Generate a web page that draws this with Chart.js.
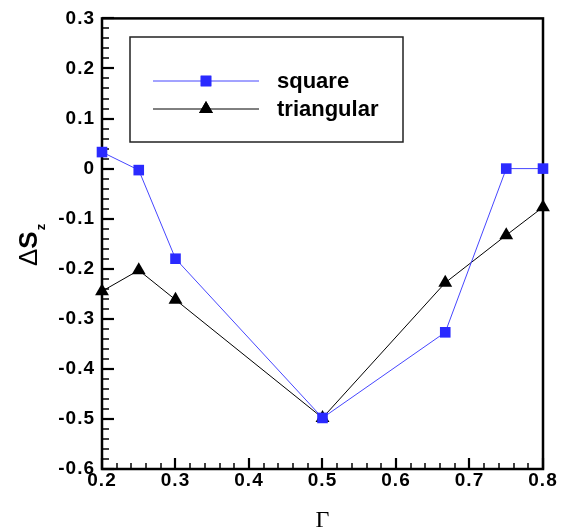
<!DOCTYPE html>
<html>
<head>
<meta charset="utf-8">
<script src="https://cdn.jsdelivr.net/npm/chart.js@4"></script>
<style>
  html, body { margin: 0; padding: 0; background: #fff; }
  canvas { display: block; }
</style>
</head>
<body>
<canvas id="chart" width="568" height="531"></canvas>
<script>
const gammaValues = [0.2, 0.25, 0.3, 0.5, 0.667, 0.75, 0.8];
const squareValues = [0.033, -0.003, -0.18, -0.498, -0.327, 0, 0];
const triangularValues = [-0.245, -0.203, -0.262, -0.498, -0.228, -0.133, -0.077];

const xTickValues = [0.2, 0.3, 0.4, 0.5, 0.6, 0.7, 0.8];
const xTickLabels = ["0.2", "0.3", "0.4", "0.5", "0.6", "0.7", "0.8"];
const yTickValues = [-0.6, -0.5, -0.4, -0.3, -0.2, -0.1, 0, 0.1, 0.2, 0.3];
const yTickLabels = ["-0.6", "-0.5", "-0.4", "-0.3", "-0.2", "-0.1", "0", "0.1", "0.2", "0.3"];

const seriesNames = ["square", "triangular"];

const blue = "rgb(42,42,255)";
const blueLine = "rgb(70,70,255)";

function points(vals) {
    return gammaValues.map((g, i) => ({ x: g, y: vals[i] }));
}

// frame and inward ticks, drawn under the marks
const framePlugin = {
    id: "frame",
    beforeDraw(chart) {
        // tick labels in the original are a bit spaced out
        chart.ctx.letterSpacing = "1px";
    },
    beforeDatasetsDraw(chart) {
        const ctx = chart.ctx;
        ctx.letterSpacing = "0px";
        const a = chart.chartArea;
        const xs = chart.scales.x;
        const ys = chart.scales.y;
        ctx.save();

        // minor ticks every 0.02
        ctx.lineWidth = 1.6;
        ctx.strokeStyle = "#111";
        for (let i = 1; i < 30; i++) {
            if (i % 5 === 0) continue;
            const px = Math.round(xs.getPixelForValue(0.2 + i * 0.02));
            ctx.beginPath();
            ctx.moveTo(px, a.bottom);
            ctx.lineTo(px, a.bottom - 6);
            ctx.stroke();
        }
        for (let i = 1; i < 45; i++) {
            if (i % 5 === 0) continue;
            const py = Math.round(ys.getPixelForValue(-0.6 + i * 0.02));
            ctx.beginPath();
            ctx.moveTo(a.left, py);
            ctx.lineTo(a.left + 7, py);
            ctx.stroke();
        }
        // major ticks
        ctx.lineWidth = 2.2;
        ctx.strokeStyle = "#000";
        xTickValues.forEach(v => {
            const px = Math.round(xs.getPixelForValue(v));
            ctx.beginPath();
            ctx.moveTo(px, a.bottom);
            ctx.lineTo(px, a.bottom - 11);
            ctx.stroke();
        });
        yTickValues.forEach(v => {
            const py = Math.round(ys.getPixelForValue(v));
            ctx.beginPath();
            ctx.moveTo(a.left, py);
            ctx.lineTo(a.left + 12, py);
            ctx.stroke();
        });

        ctx.lineWidth = 2.5;
        ctx.strokeRect(a.left, a.top, a.right - a.left, a.bottom - a.top);
        ctx.restore();
    },
    afterDraw(chart) {
        const ctx = chart.ctx;
        const a = chart.chartArea;
        ctx.save();
        ctx.letterSpacing = "0px";

        // legend box
        ctx.strokeStyle = "#222";
        ctx.lineWidth = 1.5;
        ctx.strokeRect(130, 37, 273, 105);
        const rows = [81, 109];
        chart.data.datasets.forEach((ds, i) => {
            const y = rows[i];
            ctx.strokeStyle = ds.borderColor;
            ctx.lineWidth = 1;
            ctx.beginPath();
            ctx.moveTo(153, y);
            ctx.lineTo(259, y);
            ctx.stroke();
            Chart.helpers.drawPoint(ctx, {
                pointStyle: ds.pointStyle,
                radius: ds.pointRadius,
                borderWidth: 0
            }, 206, y);
            ctx.fillStyle = ds.pointBackgroundColor;
            ctx.fill();
            ctx.fillStyle = "#000";
            ctx.font = "bold 22px 'Liberation Sans', Arial, sans-serif";
            ctx.textAlign = "left";
            ctx.textBaseline = "alphabetic";
            ctx.fillText(seriesNames[i], 277, y + 7);
        });

        // x title
        ctx.fillStyle = "#000";
        ctx.font = "24px 'Liberation Serif', 'Times New Roman', serif";
        ctx.textAlign = "center";
        ctx.textBaseline = "alphabetic";
        ctx.fillText("\u0393", (a.left + a.right) / 2, 527);

        // y title, rotated, with subscript
        ctx.translate(37, 266);
        ctx.rotate(-Math.PI / 2);
        ctx.textAlign = "left";
        ctx.font = "26px 'Liberation Sans', Arial, sans-serif";
        ctx.fillText("\u0394", 0, 0);
        let w = ctx.measureText("\u0394").width;
        ctx.font = "bold 26px 'Liberation Sans', Arial, sans-serif";
        ctx.fillText("S", w, 0);
        w += ctx.measureText("S").width;
        ctx.font = "bold 13px 'Liberation Sans', Arial, sans-serif";
        ctx.fillText("z", w + 1, 8);
        ctx.restore();
    }
};

const tickFont = { family: "'Liberation Sans', Arial, sans-serif", size: 19, weight: "bold" };

new Chart(document.getElementById("chart"), {
    type: "line",
    data: {
        datasets: [{
            label: seriesNames[0],
            data: points(squareValues),
            borderColor: blueLine,
            borderWidth: 1,
            pointStyle: "rect",
            pointRadius: 7.5,
            pointBackgroundColor: blue,
            pointBorderWidth: 0,
            clip: false
        }, {
            label: seriesNames[1],
            data: points(triangularValues),
            borderColor: "#000",
            borderWidth: 1,
            pointStyle: "triangle",
            pointRadius: 8,
            pointBackgroundColor: "#000",
            pointBorderWidth: 0,
            clip: false
        }]
    },
    options: {
        responsive: false,
        animation: false,
        layout: { padding: { left: 0, right: 25, top: 17, bottom: 0 } },
        plugins: { legend: { display: false }, tooltip: { enabled: false } },
        scales: {
            x: {
                type: "linear",
                min: 0.2,
                max: 0.8,
                afterBuildTicks: s => { s.ticks = xTickValues.map(v => ({ value: v })); },
                afterFit: s => { s.height = 62; },
                grid: { display: false, drawTicks: false },
                border: { display: false },
                ticks: {
                    color: "#000",
                    font: tickFont,
                    padding: 0,
                    maxRotation: 0,
                    callback: (v, i) => xTickLabels[i]
                }
            },
            y: {
                type: "linear",
                min: -0.6,
                max: 0.3,
                afterBuildTicks: s => { s.ticks = yTickValues.map(v => ({ value: v })); },
                afterFit: s => { s.width = 102; },
                grid: { display: false, drawTicks: false },
                border: { display: false },
                ticks: {
                    color: "#000",
                    font: tickFont,
                    padding: 7,
                    callback: (v, i) => yTickLabels[i]
                }
            }
        }
    },
    plugins: [framePlugin]
});
</script>
</body>
</html>
